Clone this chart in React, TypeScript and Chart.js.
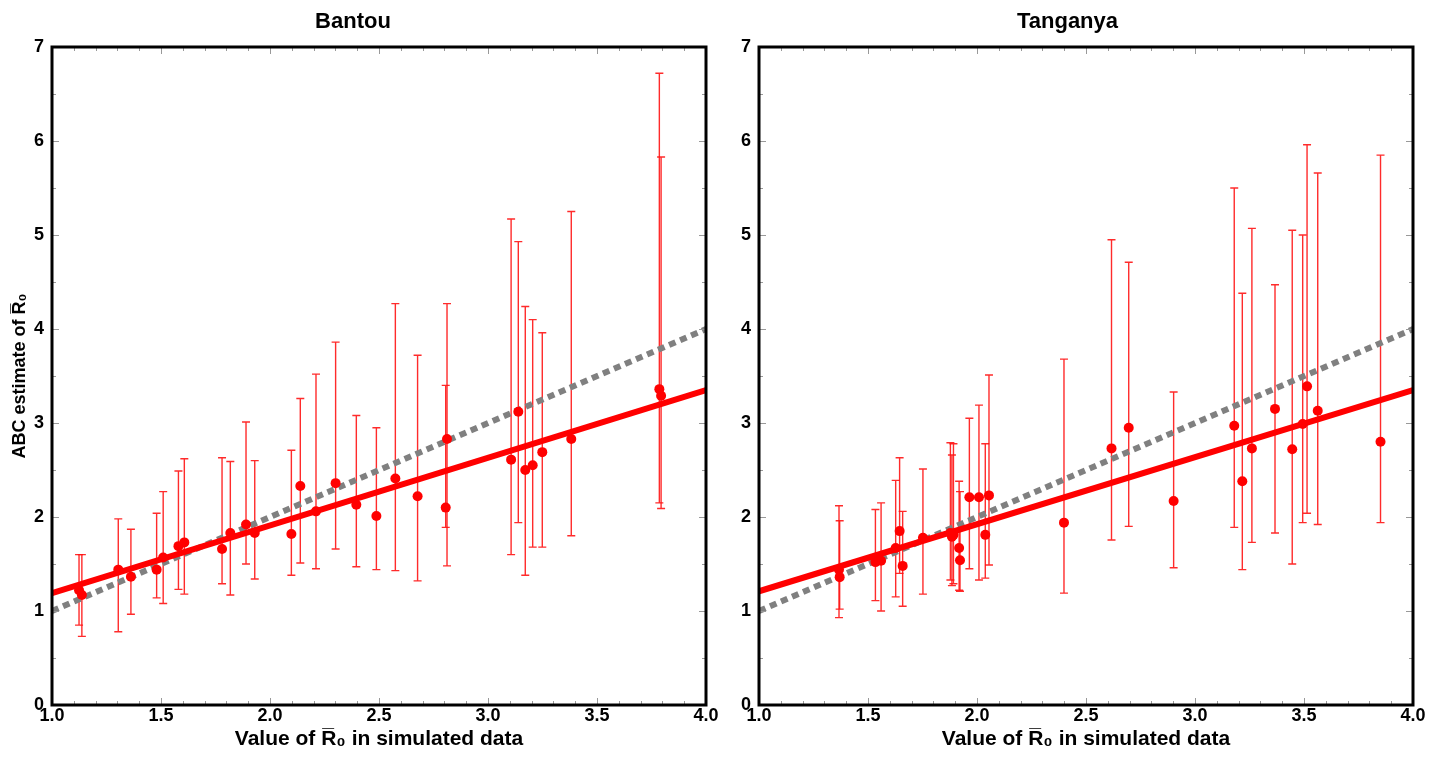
import React, { useEffect, useRef } from "react";
import { Chart, registerables } from "chart.js";

Chart.register(...registerables);

// ---------- data ----------
const bantouX = [1.124, 1.137, 1.304, 1.362, 1.48, 1.51, 1.58, 1.607, 1.78, 1.818, 1.89, 1.93, 2.098, 2.139, 2.211, 2.301, 2.396, 2.488, 2.575, 2.677, 2.806, 2.812, 3.106, 3.139, 3.171, 3.205, 3.249, 3.382, 3.786, 3.794];
const bantouY = [1.22, 1.17, 1.44, 1.365, 1.44, 1.57, 1.69, 1.73, 1.66, 1.83, 1.92, 1.83, 1.82, 2.33, 2.06, 2.36, 2.13, 2.01, 2.41, 2.22, 2.10, 2.83, 2.61, 3.12, 2.50, 2.55, 2.69, 2.83, 3.36, 3.29];
const bantouLow = [0.85, 0.73, 0.78, 0.965, 1.14, 1.08, 1.23, 1.18, 1.29, 1.17, 1.50, 1.34, 1.38, 1.51, 1.45, 1.66, 1.47, 1.44, 1.43, 1.32, 1.89, 1.48, 1.60, 1.94, 1.38, 1.68, 1.68, 1.80, 2.15, 2.09];
const bantouHigh = [1.60, 1.60, 1.98, 1.87, 2.04, 2.27, 2.49, 2.62, 2.63, 2.59, 3.01, 2.60, 2.71, 3.26, 3.52, 3.86, 3.08, 2.95, 4.27, 3.72, 3.40, 4.27, 5.17, 4.93, 4.24, 4.10, 3.96, 5.25, 6.72, 5.83];

const tangX = [1.367, 1.370, 1.534, 1.56, 1.627, 1.645, 1.659, 1.752, 1.878, 1.885, 1.892, 1.918, 1.922, 1.965, 2.009, 2.038, 2.055, 2.399, 2.617, 2.696, 2.902, 3.18, 3.217, 3.261, 3.367, 3.446, 3.494, 3.514, 3.563, 3.851];
const tangY = [1.44, 1.36, 1.52, 1.535, 1.67, 1.85, 1.48, 1.78, 1.83, 1.79, 1.81, 1.67, 1.54, 2.21, 2.21, 1.81, 2.23, 1.94, 2.73, 2.95, 2.17, 2.97, 2.38, 2.73, 3.15, 2.72, 2.99, 3.39, 3.13, 2.80];
const tangLow = [0.93, 1.02, 1.11, 1.00, 1.15, 1.40, 1.05, 1.18, 1.33, 1.27, 1.29, 1.22, 1.21, 1.45, 1.33, 1.35, 1.49, 1.19, 1.755, 1.90, 1.46, 1.89, 1.44, 1.73, 1.83, 1.50, 1.94, 2.04, 1.92, 1.94];
const tangHigh = [2.12, 1.96, 2.08, 2.15, 2.39, 2.63, 2.06, 2.51, 2.79, 2.66, 2.78, 2.38, 2.27, 3.05, 3.19, 2.78, 3.51, 3.68, 4.95, 4.71, 3.33, 5.50, 4.38, 5.07, 4.47, 5.05, 5.00, 5.96, 5.66, 5.85];

const fitX = [1, 4];
const bantouFit = [1.19, 3.35];
const tangFit = [1.21, 3.35];
const identityY = [1, 4];

const xMajorTicks = [1.0, 1.5, 2.0, 2.5, 3.0, 3.5, 4.0];
const xMinorTicks = [1.1, 1.2, 1.3, 1.4, 1.6, 1.7, 1.8, 1.9, 2.1, 2.2, 2.3, 2.4, 2.6, 2.7, 2.8, 2.9, 3.1, 3.2, 3.3, 3.4, 3.6, 3.7, 3.8, 3.9];
const yMajorTicks = [0, 1, 2, 3, 4, 5, 6, 7];
const yMinorTicks = [0.5, 1.5, 2.5, 3.5, 4.5, 5.5, 6.5];

const FONT = "'Liberation Sans Narrow', 'Liberation Sans', Arial, sans-serif";

// ---------- plugins ----------
const errorBarPlugin = {
  id: "errbars",
  beforeDatasetsDraw(chart: any, _args: any, opts: any) {
    const { ctx } = chart;
    const xs = chart.scales.x;
    const ys = chart.scales.y;
    ctx.save();
    ctx.strokeStyle = "rgba(255,20,20,0.9)";
    ctx.lineWidth = 1.4;
    const cap = 4;
    (opts.xs || []).forEach((xv: number, i: number) => {
      const px = xs.getPixelForValue(xv);
      const pLo = ys.getPixelForValue(opts.lows[i]);
      const pHi = ys.getPixelForValue(opts.highs[i]);
      ctx.beginPath();
      ctx.moveTo(px, pLo);
      ctx.lineTo(px, pHi);
      ctx.moveTo(px - cap, pLo);
      ctx.lineTo(px + cap, pLo);
      ctx.moveTo(px - cap, pHi);
      ctx.lineTo(px + cap, pHi);
      ctx.stroke();
    });
    ctx.restore();
  },
};

const framePlugin = {
  id: "frameTicks",
  afterDraw(chart: any) {
    const { ctx, chartArea: a } = chart;
    const xs = chart.scales.x;
    const ys = chart.scales.y;
    ctx.save();
    ctx.strokeStyle = "#999";
    ctx.lineWidth = 1;
    const drawX = (vals: number[], len: number) => {
      vals.forEach((v) => {
        const p = Math.round(xs.getPixelForValue(v)) + 0.5;
        ctx.beginPath();
        ctx.moveTo(p, a.top);
        ctx.lineTo(p, a.top + len);
        ctx.moveTo(p, a.bottom);
        ctx.lineTo(p, a.bottom - len);
        ctx.stroke();
      });
    };
    const drawY = (vals: number[], len: number) => {
      vals.forEach((v) => {
        const p = Math.round(ys.getPixelForValue(v)) + 0.5;
        ctx.beginPath();
        ctx.moveTo(a.left, p);
        ctx.lineTo(a.left + len, p);
        ctx.moveTo(a.right, p);
        ctx.lineTo(a.right - len, p);
        ctx.stroke();
      });
    };
    drawX(xMajorTicks, 7);
    drawX(xMinorTicks, 4);
    drawY(yMajorTicks, 7);
    drawY(yMinorTicks, 4);
    ctx.strokeStyle = "#000";
    ctx.lineWidth = 3;
    ctx.strokeRect(a.left, a.top, a.right - a.left, a.bottom - a.top);
    ctx.restore();
  },
};

const whiteBg = {
  id: "whiteBg",
  beforeDraw(chart: any) {
    const { ctx, width, height } = chart;
    ctx.save();
    ctx.fillStyle = "#fff";
    ctx.fillRect(0, 0, width, height);
    ctx.restore();
  },
};

// ---------- panel ----------
type PanelProps = {
  title: string;
  xs: number[];
  ys: number[];
  lows: number[];
  highs: number[];
  fit: number[];
  showYTitle: boolean;
  width: number;
  yAxisWidth: number;
  rightPad: number;
};

function Panel(p: PanelProps) {
  const ref = useRef<HTMLCanvasElement | null>(null);
  useEffect(() => {
    if (!ref.current) return;
    const points = p.xs.map((x, i) => ({ x, y: p.ys[i] }));
    const fitLine = fitX.map((x, i) => ({ x, y: p.fit[i] }));
    const idLine = fitX.map((x, i) => ({ x, y: identityY[i] }));
    const chart = new Chart(ref.current, {
      type: "scatter",
      data: {
        datasets: [
          {
            data: points,
            backgroundColor: "#ff0000",
            borderColor: "#ff0000",
            pointRadius: 5,
            pointBorderWidth: 0,
            showLine: false,
          },
          {
            data: fitLine,
            showLine: true,
            borderColor: "#ff0000",
            borderWidth: 6,
            pointRadius: 0,
          },
          {
            data: idLine,
            showLine: true,
            borderColor: "#808080",
            borderWidth: 6,
            borderDash: [7, 5],
            borderCapStyle: "butt",
            pointRadius: 0,
          },
        ],
      } as any,
      options: {
        animation: false,
        responsive: false,
        layout: { padding: { left: 0, right: p.rightPad, top: 0, bottom: 0 } },
        plugins: {
          legend: { display: false },
          tooltip: { enabled: false },
          title: {
            display: true,
            text: p.title,
            color: "#000",
            font: { family: FONT, size: 22, weight: "bold" },
            padding: { top: 9, bottom: 11.6 },
          },
          errbars: { xs: p.xs, lows: p.lows, highs: p.highs },
        } as any,
        scales: {
          x: {
            type: "linear",
            min: 1,
            max: 4,
            afterBuildTicks: (s: any) => {
              s.ticks = xMajorTicks.map((v) => ({ value: v }));
            },
            afterFit: (s: any) => {
              s.height = 52;
            },
            grid: { display: false, drawTicks: false },
            border: { display: false },
            ticks: {
              color: "#000",
              font: { family: FONT, size: 18, weight: "bold" },
              padding: 0,
              maxRotation: 0,
              callback: (v: any) => Number(v).toFixed(1),
            },
            title: {
              display: true,
              text: "Value of R\u0305\u2080 in simulated data",
              color: "#000",
              font: { family: FONT, size: 21, weight: "bold" },
              padding: { top: 0, bottom: 5 },
            },
          },
          y: {
            type: "linear",
            min: 0,
            max: 7,
            afterBuildTicks: (s: any) => {
              s.ticks = yMajorTicks.map((v) => ({ value: v }));
            },
            afterFit: (s: any) => {
              s.width = p.yAxisWidth;
            },
            grid: { display: false, drawTicks: false },
            border: { display: false },
            ticks: {
              color: "#000",
              font: { family: FONT, size: 18, weight: "bold" },
              padding: 8,
              callback: (v: any) => String(v),
            },
            title: {
              display: p.showYTitle,
              text: "ABC estimate of R\u0305\u2080",
              color: "#000",
              font: { family: FONT, size: 18, weight: "bold" },
              padding: { top: 9, bottom: 0 },
            },
          },
        },
      } as any,
      plugins: [whiteBg, errorBarPlugin, framePlugin],
    });
    return () => chart.destroy();
  }, []);
  return <canvas ref={ref} width={p.width} height={757} style={{ display: "block" }} />;
}

export default function App() {
  return (
    <div style={{ position: "fixed", left: 0, top: 0, width: 1444, height: 757, background: "#fff", display: "flex" }}>
      <Panel
        title="Bantou"
        xs={bantouX}
        ys={bantouY}
        lows={bantouLow}
        highs={bantouHigh}
        fit={bantouFit}
        showYTitle={true}
        width={722}
        yAxisWidth={52}
        rightPad={16}
      />
      <Panel
        title="Tanganya"
        xs={tangX}
        ys={tangY}
        lows={tangLow}
        highs={tangHigh}
        fit={tangFit}
        showYTitle={false}
        width={722}
        yAxisWidth={37}
        rightPad={31}
      />
    </div>
  );
}
